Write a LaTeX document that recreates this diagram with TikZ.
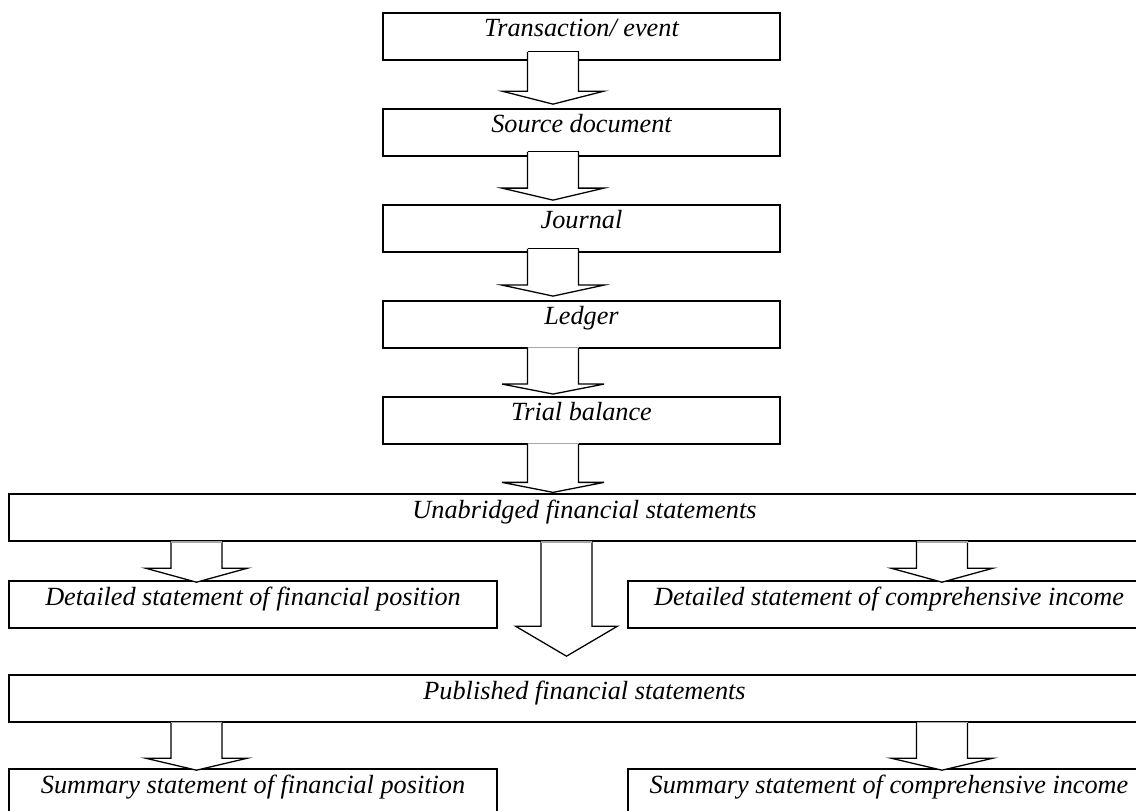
\documentclass[tikz,border=0pt]{standalone}
\usepackage{fontspec}
\setmainfont{Liberation Serif}
\usetikzlibrary{positioning,calc}
\tikzset{
  stage/.style={draw,line width=0.7pt,inner xsep=0pt,inner ysep=0pt,
    minimum height=0.705cm,text height=0.36cm,text depth=0.345cm,
    minimum width=#1},
  stage/.default=5.955cm,
  barr/.style={fill=white,draw=black,line width=0.55pt,line join=miter},
}
% block arrow: [top edge colour] source, target, x, head length, gap above target, overlap into source
\newcommand{\blockarr}[7][gray!70]{%
  \filldraw[barr] let \p1=(#2.south), \p2=(#3.north) in
    ({#4-0.3825cm},{\y1+#7}) -- ({#4-0.3825cm},{\y2+#6+#5}) -- ({#4-0.765cm},{\y2+#6+#5})
    -- (#4,{\y2+#6}) -- ({#4+0.765cm},{\y2+#6+#5}) -- ({#4+0.3825cm},{\y2+#6+#5})
    -- ({#4+0.3825cm},{\y1+#7});
  \draw[#1,line width=0.55pt] let \p1=(#2.south) in
    ({#4-0.3825cm},{\y1+#7}) -- ({#4+0.3825cm},{\y1+#7});}
\begin{document}
\begin{tikzpicture}[font=\itshape\fontsize{11.2}{13}\selectfont]
  \useasboundingbox (0,0) rectangle (17.04,-12.165);
  % chain of records
  \node[stage] (tx) at (8.7225,-0.5475) {Transaction/ event};
  \node[stage,below=0.71cm of tx] (src) {Source document};
  \node[stage,below=0.71cm of src] (jnl) {Journal};
  \node[stage,below=0.71cm of jnl] (ldg) {Ledger};
  \node[stage,below=0.71cm of ldg] (tb) {Trial balance};
  % statements
  \node[stage=17.265cm,below=0.73cm of tb,xshift=0.045cm] (unab) {Unabridged financial statements};
  \node[stage=7.32cm] (detL) at (3.795,-9.0675) {Detailed statement of financial position};
  \node[stage=7.83cm] (detR) at (13.335,-9.0675) {Detailed statement of comprehensive income};
  \node[stage=17.265cm] (pub) at (8.7675,-10.4775) {Published financial statements};
  \node[stage=7.32cm] (sumL) at (3.795,-11.8875) {Summary statement of financial position};
  \node[stage=7.83cm] (sumR) at (13.335,-11.8875) {Summary statement of comprehensive income};
  % arrows
  \blockarr[black]{tx}{src}{8.295cm}{0.195cm}{0.06cm}{0.135cm}
  \blockarr[black]{src}{jnl}{8.295cm}{0.18cm}{0.06cm}{0.075cm}
  \blockarr[black]{jnl}{ldg}{8.295cm}{0.165cm}{0.06cm}{0.06cm}
  \blockarr{ldg}{tb}{8.295cm}{0.15cm}{0.03cm}{0.015cm}
  \blockarr{tb}{unab}{8.295cm}{0.15cm}{0.015cm}{0.015cm}
  \blockarr{unab}{detL}{2.9475cm}{0.21cm}{-0.03cm}{0cm}
  \blockarr{unab}{detR}{14.13cm}{0.21cm}{-0.03cm}{0cm}
  \blockarr{unab}{pub}{8.4975cm}{0.45cm}{0.27cm}{0cm}
  \blockarr{pub}{sumL}{2.9475cm}{0.18cm}{-0.03cm}{0cm}
  \blockarr{pub}{sumR}{14.13cm}{0.18cm}{-0.03cm}{0cm}
\end{tikzpicture}
\end{document}
